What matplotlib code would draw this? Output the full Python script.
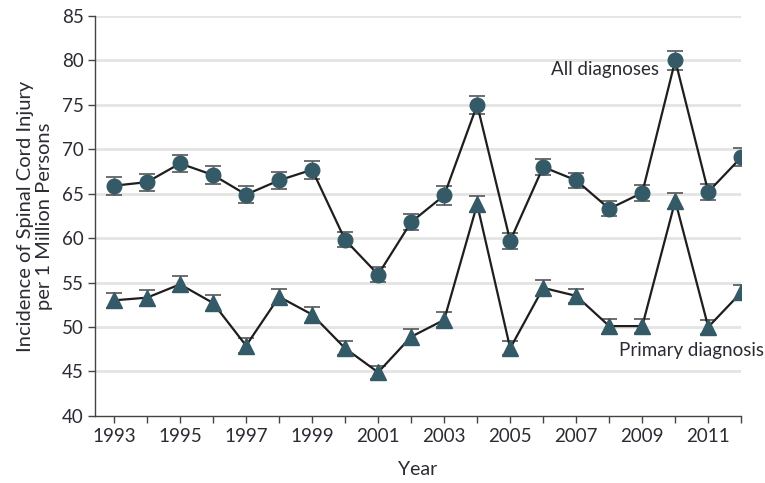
import numpy as np
import matplotlib
matplotlib.use("Agg")
import matplotlib.pyplot as plt

plt.rcParams['font.family'] = ['Lato', 'DejaVu Sans']

years = list(range(1993, 2013))

# All diagnoses
all_diag = [65.9, 66.3, 68.4, 67.1, 64.9, 66.5, 67.7, 59.8, 55.9, 61.8,
            64.8, 75.0, 59.7, 68.0, 66.5, 63.3, 65.1, 80.0, 65.2, 69.1]
all_err = [1.0, 0.95, 1.0, 1.0, 0.95, 0.95, 1.0, 0.85, 0.85, 0.9,
           1.05, 1.0, 0.9, 0.9, 0.85, 0.85, 0.9, 1.05, 0.9, 1.0]

# Primary diagnosis
prim_diag = [53.0, 53.3, 54.8, 52.7, 47.9, 53.4, 51.4, 47.6, 44.9, 48.9,
             50.8, 63.8, 47.6, 54.4, 53.5, 50.1, 50.1, 64.2, 50.0, 53.9]
prim_err = [0.85, 0.9, 0.9, 0.9, 0.85, 0.9, 0.9, 0.8, 0.75, 0.85,
            0.85, 0.9, 0.8, 0.9, 0.8, 0.85, 0.75, 0.9, 0.75, 0.85]

mark_col = '#355a67'
text_col = '#2b2b33'

fig = plt.figure(figsize=(7.65, 4.83), dpi=100)
ax = fig.add_axes([0.124, 0.139, 0.845, 0.828])

for yv in range(45, 85, 5):
    ax.axhline(yv, color='#e4e4e4', lw=2, zorder=0)
ax.axhline(85, color='#e4e4e4', lw=2, zorder=0)

ax.errorbar(years, all_diag, yerr=all_err, fmt='none', ecolor='#555555',
            elinewidth=1, capsize=6, capthick=1.2, zorder=2)
ax.plot(years, all_diag, color='#1e1e1e', lw=1.6, zorder=3)
ax.plot(years, all_diag, 'o', ms=10.5, color=mark_col, zorder=4)

ax.errorbar(years, prim_diag, yerr=prim_err, fmt='none', ecolor='#555555',
            elinewidth=1, capsize=6, capthick=1.2, zorder=2)
ax.plot(years, prim_diag, color='#1e1e1e', lw=1.6, zorder=3)
ax.plot(years, prim_diag, '^', ms=11.5, color=mark_col, zorder=4)

ax.text(2009.5, 79.0, 'All diagnoses', ha='right', va='center',
        fontsize=13.5, color=text_col)
ax.text(2008.3, 47.3, 'Primary diagnosis', ha='left', va='center',
        fontsize=13.5, color=text_col)

ax.set_xlim(1992.42, 2012)
ax.set_ylim(40, 85)
ax.set_yticks(range(40, 90, 5))
ax.set_xticks(years)
ax.set_xticklabels([str(y) if y % 2 == 1 else '' for y in years])

for s in ['top', 'right']:
    ax.spines[s].set_visible(False)
for s in ['left', 'bottom']:
    ax.spines[s].set_color('#444444')
    ax.spines[s].set_linewidth(1)

ax.tick_params(axis='both', colors='#444444', labelcolor=text_col,
               labelsize=13.5, length=5, width=1)
ax.tick_params(axis='y', pad=3)

ax.set_xlabel('Year', fontsize=14, color=text_col, labelpad=12)
ax.set_ylabel('Incidence of Spinal Cord Injury\nper 1 Million Persons',
              fontsize=14.5, color=text_col, labelpad=6, linespacing=1.15)

fig.savefig('out.png', dpi=100)
